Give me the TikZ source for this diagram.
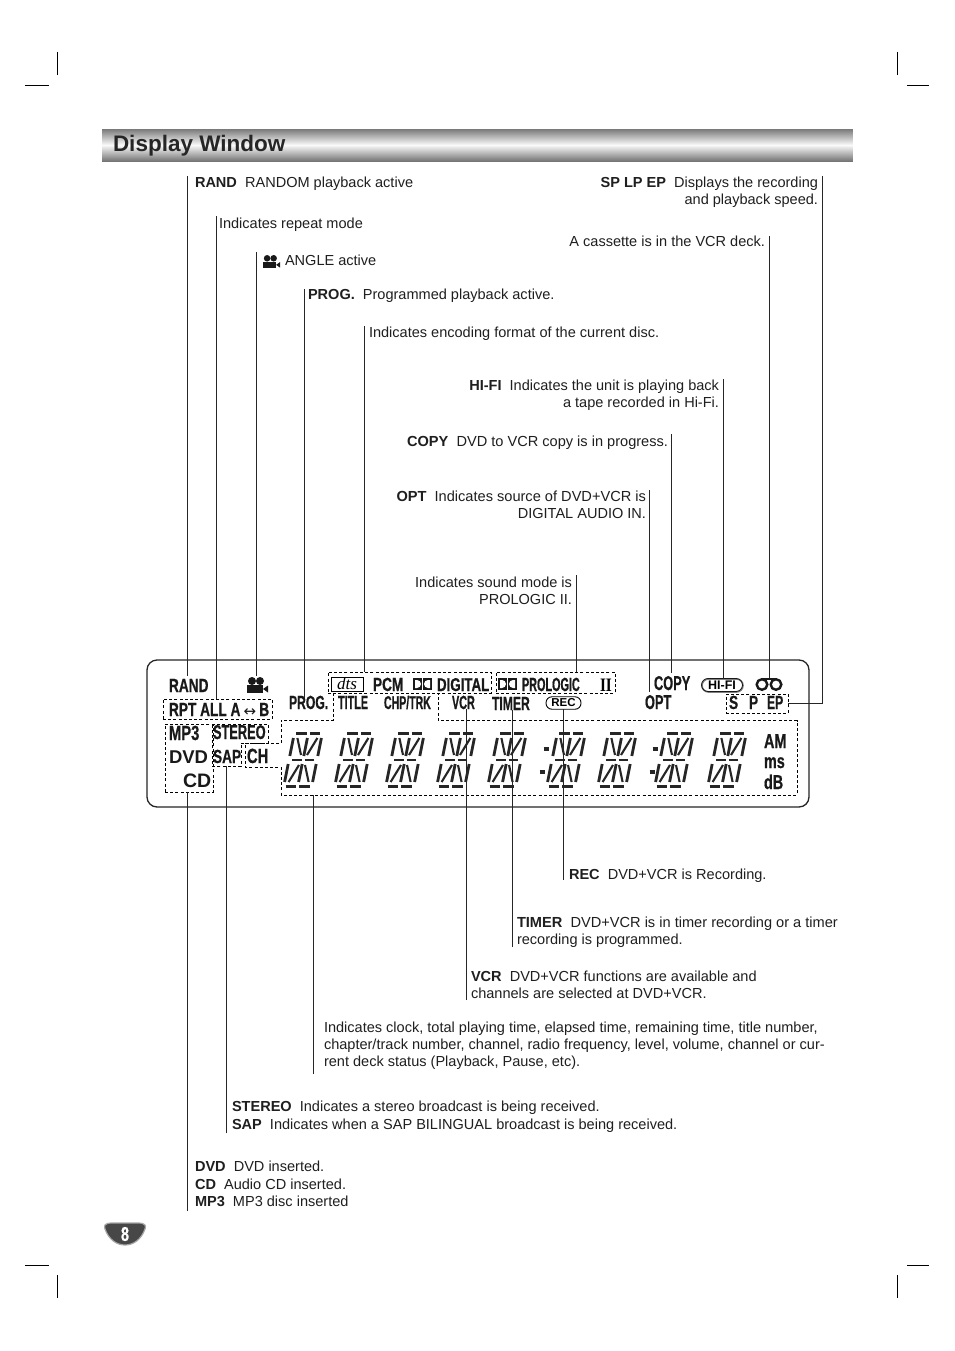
\documentclass[tikz,border=0pt]{standalone}
\usepackage{fontspec}
\setmainfont{Liberation Sans}
\newfontfamily\lcdfont[FakeStretch=0.72,FakeBold=0.6]{Liberation Sans Bold}
\newfontfamily\lcdmid[FakeStretch=0.64,FakeBold=0.6]{Liberation Sans Bold}
\newfontfamily\lcdthin[FakeStretch=0.57,FakeBold=0.6]{Liberation Sans Bold}
\newfontfamily\seriffont{Liberation Serif}
\newfontfamily\serifnarrow[FakeStretch=0.8]{Liberation Serif Bold}
\usetikzlibrary{calc}
\newcommand{\fs}[1]{\fontsize{#1}{#1}\selectfont}
\tikzset{
  x=1pt,y=-1pt,
  every node/.style={inner sep=0pt,outer sep=0pt},
  leader/.style={line width=0.9pt,black!85},
  txt/.style={anchor=base west,font=\fs{14.54},text=black!88},
  rtxt/.style={anchor=base east,font=\fs{14.54},text=black!88},
  crop/.style={line width=0.6pt,black},
  lcd/.style={anchor=base west,font=\lcdfont\fs{19},text=black!90},
  lcdm/.style={anchor=base west,font=\lcdmid\fs{19},text=black!90},
  lcdt/.style={anchor=base west,font=\lcdthin\fs{19},text=black!90},
  wide/.style={anchor=base west,font=\bfseries\fs{18.5},text=black!90},
  dashbox/.style={draw,dashed,line width=0.7pt,dash pattern=on 3pt off 2.2pt,black},
  panel/.style={draw,line width=1.3pt,rounded corners=10pt,black!85},
  seg/.style={line width=2.8pt,black!85},
  diag/.style={line width=2.1pt,black!85},
}
\newcommand{\lcddigit}[1]{%
  \begin{scope}[shift={(#1,760)},xslant=0.2]
   \foreach \a/\b/\c/\d in {-12/-26.5/-1.5/-26.5, 1.5/-26.5/12/-26.5, -11/0/-1.5/0, 1.5/0/11/0, -12/26.5/-1.5/26.5, 1.5/26.5/12/26.5,
      -14/-22/-14/-4, 0/-22/0/-4, 14/-22/14/-4, -14/4/-14/22, 0/4/0/22, 14/4/14/22}
     \draw[seg] (\a,\b) -- (\c,\d);
   \foreach \a/\b/\c/\d in {-10/-22/-3/-5, 10/-22/3/-5, -3/5/-10/22, 3/5/10/22}
     \draw[diag] (\a,\b) -- (\c,\d);
  \end{scope}}
\newcommand{\dolby}[2]{%
  \fill[black!90] (#1,#2) rectangle ++(9,12);
  \fill[black!90] (#1+10,#2) rectangle ++(9,12);
  \fill[white] (#1+2,#2+2) -- ++(2,0) arc[start angle=-90,end angle=90,radius=4] -- ++(-2,0) -- cycle;
  \fill[white] (#1+17,#2+2) -- ++(-2,0) arc[start angle=-90,end angle=-270,radius=4] -- ++(2,0) -- cycle;}
\newcommand{\camera}[3]{%
  \begin{scope}[shift={(#1,#2)},scale=#3]
  \fill[black!90] (5,4) circle (4);
  \fill[black!90] (13,4) circle (4);
  \fill[black!90] (0,8) rectangle (16,16);
  \fill[black!90] (16,12) -- (21,8.5) -- (21,15.5) -- cycle;
  \end{scope}}
\begin{document}
\begin{tikzpicture}
\useasboundingbox (0,0) rectangle (954,1351);
\fill[white] (0,0) rectangle (954,1351);
% crop marks
\coordinate (c1) at (25,85); \coordinate (c2) at (49,85);
\coordinate (c3) at (57,52); \coordinate (c4) at (57,75);
\coordinate (c5) at (907,85); \coordinate (c6) at (929,85);
\coordinate (c7) at (897,52); \coordinate (c8) at (897,75);
\coordinate (c9) at (25,1265); \coordinate (c10) at (49,1265);
\coordinate (c11) at (57,1275); \coordinate (c12) at (57,1298);
\coordinate (c13) at (907,1265); \coordinate (c14) at (929,1265);
\coordinate (c15) at (897,1275); \coordinate (c16) at (897,1298);
\foreach \p/\q in {c1/c2,c3/c4,c5/c6,c7/c8,c9/c10,c11/c12,c13/c14,c15/c16} \draw[crop] (\p) -- (\q);
% title band: one-pixel rows, dark at both edges and near white at the middle
\foreach \i in {0,...,32} {
  \pgfmathsetmacro{\shadeval}{\i<16 ? 52-50*\i/16 : 2+52*(\i-16)/16}
  \fill[black!\shadeval] (102,129+\i) rectangle (853,{129+\i+(\i<32?1.3:1)});
}
\node[anchor=base west,font=\bfseries\fs{22.5},text=black!85] (title) at (113,152) {Display Window};
% panel
\draw[panel] (147,660) rectangle (809,807);
% digits
\foreach \c in {303,354,405,456,507,566,617,674,727} {\lcddigit{\c}}
\foreach \x/\y in {546/749,542/772,655/749,652/772} \draw[seg,line width=3.2pt] (\x-2.5,\y) -- (\x+2.5,\y);
% dashed boxes
\node[dashbox,minimum width=109pt,minimum height=20pt,anchor=north west] (rptbox) at (163,699) {};
\node[dashbox,minimum width=48pt,minimum height=68pt,anchor=north west] (discbox) at (165,724) {};
\node[dashbox,minimum width=163pt,minimum height=21pt,anchor=north west] (fmtbox) at (328,672) {};
\node[dashbox,minimum width=119pt,minimum height=21pt,anchor=north west] (plbox) at (496,672) {};
\node[dashbox,minimum width=62pt,minimum height=19pt,anchor=north west] (spbox) at (726,694) {};
\draw[dashbox] (212,724) -- (268,724) -- (268,743) -- (241,743) -- (241,766) -- (212,766) -- cycle;
\coordinate (sapbottom) at (226.5,766);
\draw[dashbox] (333,693) -- (333,720) -- (281,720) -- (281,743) -- (245,743) -- (245,767) -- (281,767) -- (281,795) -- (797,795) -- (797,720.5) -- (438,720.5) -- (438,693);
\coordinate (digitbottom) at (313,795);
% panel labels
\node[lcd] (rand) at (169,692) {RAND};
\camera{247}{677}{1}
\coordinate (camtop) at (256,676);
\node[lcd] (rpt) at (169,716) {RPT ALL A\,{\fontspec{DejaVu Sans}\fs{15}↔}\,B};
\node[lcdm] (prog) at (289,709) {PROG.};
\node[lcd,font=\lcdfont\fs{20.5}] (mp3) at (169,740) {MP3};
\node[wide] (dvd) at (169,763) {DVD};
\node[wide,font=\bfseries\fs{19.5}] (cd) at (183,787) {CD};
\node[lcdm,font=\lcdmid\fs{20}] (stereo) at (213,739) {STEREO};
\node[lcd] (sap) at (213,763) {SAP};
\node[lcd,font=\lcdfont\fs{20.5}] (ch) at (247,763) {CH};
\node[draw,line width=0.8pt,minimum width=32pt,minimum height=14pt,anchor=north west,font=\seriffont\itshape\fs{17}] (dts) at (331,677) {dts};
\node[lcd] (pcm) at (373,691) {PCM};
\dolby{413}{678}
\node[lcdm,font=\lcdfont\fs{18.5}] (digital) at (437,691) {DIGITAL};
\node[lcdm,font=\lcdthin\fs{19}] (tit) at (338,709) {TITLE};
\node[lcdt,font=\lcdthin\fs{18.5}] (chp) at (384,709) {CHP/TRK};
\node[lcdt] (vcr) at (452,709) {VCR};
\dolby{498}{678}
\node[lcdt] (pro) at (522,691) {PROLOGIC};
\node[anchor=base west,font=\serifnarrow\fs{19}] (two) at (600,691) {II};
\node[lcdm] (timer) at (492,710) {TIMER};
\node[draw,line width=0.9pt,rounded corners=6pt,minimum width=35pt,minimum height=12.5pt,font=\bfseries\fs{11.5},fill=white] (rec) at (563.5,703) {REC};
\node[lcd,font=\lcdmid\fs{20}] (copy) at (654,690) {COPY};
\node[lcd,font=\lcdmid\fs{20}] (opt) at (645,709) {OPT};
\draw[line width=1.6pt,black!50,rounded corners=6.5pt] (702,679) rectangle (743,692);
\node[draw=black!90,line width=0.8pt,rounded corners=6.5pt,minimum width=41pt,minimum height=13pt,font=\bfseries\fs{12.5}] (hifi) at (722,685) {HI-FI};
\draw[line width=2.4pt,black!90] (762,684.5) circle (5.3) (776,684.5) circle (5.3);
\draw[line width=1.6pt,black!90] (762,679) -- (776,679);
\coordinate (tapetop) at (769.5,678);
\node[lcd] (s) at (729,709) {S};
\node[lcd] (p) at (749,709) {P};
\node[lcdm] (ep) at (767,709) {EP};
\node[lcd,font=\lcdfont\fs{20}] (am) at (764,748) {AM};
\node[lcd,font=\lcdfont\fs{20}] (ms) at (764,768) {ms};
\node[lcd,font=\lcdfont\fs{20}] (db) at (764,789) {dB};
% captions
\node[txt] (t1) at (195,187) {\textbf{RAND}\ \ RANDOM playback active};
\node[txt] (t2) at (219,228) {Indicates repeat mode};
\camera{263}{255}{0.82}
\node[txt] (t3) at (285,265) {ANGLE active};
\node[txt] (t4) at (308,299) {\textbf{PROG.}\ \ Programmed playback active.};
\node[txt] (t5) at (369,337) {Indicates encoding format of the current disc.};
\node[rtxt] (t6) at (818,187) {\textbf{SP LP EP}\ \ Displays the recording};
\node[rtxt] (t6b) at (818,204.5) {and playback speed.};
\node[rtxt] (t7) at (765,246) {A cassette is in the VCR deck.};
\node[rtxt] (t8) at (719,390) {\textbf{HI-FI}\ \ Indicates the unit is playing back};
\node[rtxt] (t8b) at (719,407) {a tape recorded in Hi-Fi.};
\node[rtxt,font=\fs{14.58}] (t9) at (668,446) {\textbf{COPY}\ \ DVD to VCR copy is in progress.};
\node[rtxt,font=\fs{14.6}] (t10) at (646,501) {\textbf{OPT}\ \ Indicates source of DVD+VCR is};
\node[rtxt] (t10b) at (646,518) {DIGITAL AUDIO IN.};
\node[rtxt] (t11) at (572,587) {Indicates sound mode is};
\node[rtxt] (t11b) at (572,604) {PROLOGIC II.};
\node[txt] (t12) at (569,879) {\textbf{REC}\ \ DVD+VCR is Recording.};
\node[txt,font=\fs{14.6}] (t13) at (517,927) {\textbf{TIMER}\ \ DVD+VCR is in timer recording or a timer};
\node[txt] (t13b) at (517,944) {recording is programmed.};
\node[txt] (t14) at (471,981) {\textbf{VCR}\ \ DVD+VCR functions are available and};
\node[txt] (t14b) at (471,998) {channels are selected at DVD+VCR.};
\node[txt] (t15) at (324,1032) {Indicates clock, total playing time, elapsed time, remaining time, title number,};
\node[txt] (t15b) at (324,1049) {chapter/track number, channel, radio frequency, level, volume, channel or cur-};
\node[txt] (t15c) at (324,1066) {rent deck status (Playback, Pause, etc).};
\node[txt] (t16) at (232,1111) {\textbf{STEREO}\ \ Indicates a stereo broadcast is being received.};
\node[txt] (t16b) at (232,1129) {\textbf{SAP}\ \ Indicates when a SAP BILINGUAL broadcast is being received.};
\node[txt] (t17) at (195,1171) {\textbf{DVD}\ \ DVD inserted.};
\node[txt] (t17b) at (195,1189) {\textbf{CD}\ \ Audio CD inserted.};
\node[txt] (t17c) at (195,1206) {\textbf{MP3}\ \ MP3 disc inserted};
% leader free ends
\coordinate (l1) at (187,176); \coordinate (l2) at (216,216); \coordinate (l3) at (256,252);
\coordinate (l4) at (304,289); \coordinate (l5) at (364.5,326); \coordinate (l6) at (723,379);
\coordinate (l7) at (671.5,434); \coordinate (l8) at (649.5,490); \coordinate (l9) at (576.5,575);
\coordinate (l10) at (769.5,236); \coordinate (l11) at (822.5,176);
\coordinate (l12) at (187,1211); \coordinate (l13) at (226.5,1133); \coordinate (l14) at (313,1074);
\coordinate (l15) at (466.5,1000); \coordinate (l16) at (512.5,947); \coordinate (l17) at (563,880);
\draw[leader] (l1) -- ([yshift=3pt]l1 |- rand.north);
\draw[leader] (l2) -- (l2 |- rptbox.north);
\draw[leader] (l3) -- (camtop);
\draw[leader] (l4) -- ([yshift=-2pt]l4 |- prog.north);
\draw[leader] (l5) -- (l5 |- fmtbox.north);
\draw[leader] (l6) -- (l6 |- hifi.north);
\draw[leader] (l7) -- ([yshift=3pt]l7 |- copy.north);
\draw[leader] (l8) -- ([yshift=3pt]l8 |- opt.north);
\draw[leader] (l9) -- (l9 |- plbox.north);
\draw[leader] (l10) -- (tapetop);
\draw[leader] (l11) |- (spbox.east);
\draw[leader] (l12) -- (l12 |- discbox.south);
\draw[leader] (l13) -- (sapbottom);
\draw[leader] (l14) -- (digitbottom);
\draw[leader] (l15) -- (l15 |- vcr.south);
\draw[leader] (l16) -- (l16 |- timer.south);
\draw[leader] (l17) -- (l17 |- rec.south);
% page badge
\fill[black!72,draw=black!35,line width=1.2pt] (112,1223) -- (138,1223) .. controls (146,1223) and (146,1226) .. (145,1229) .. controls (141,1240) and (133,1245) .. (125,1245) .. controls (117,1245) and (109,1240) .. (105,1229) .. controls (104,1226) and (104,1223) .. (112,1223) -- cycle;
\node[font=\lcdfont\bfseries\fs{20},text=white] (pg) at (125,1234) {8};
\end{tikzpicture}
\end{document}
